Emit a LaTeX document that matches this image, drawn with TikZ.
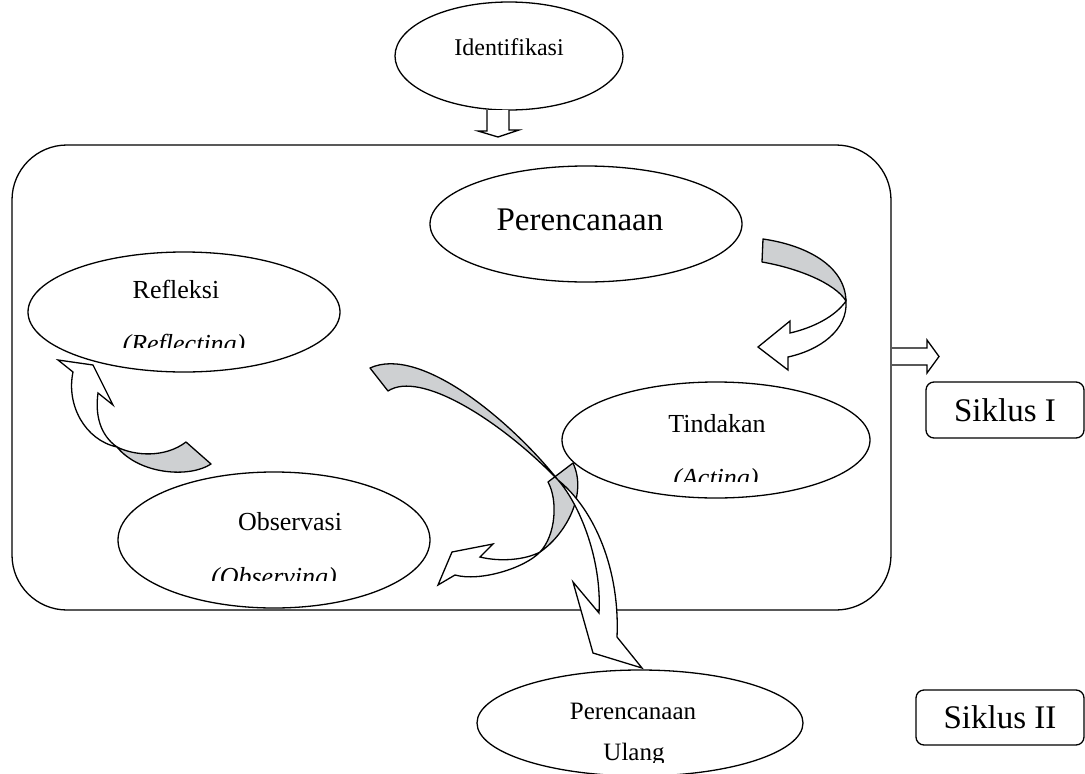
\documentclass[tikz,border=0pt]{standalone}
\usepackage{fontspec}
\setmainfont{Liberation Serif}
\usetikzlibrary{shapes.geometric}
\definecolor{shade}{RGB}{206,208,210}
\begin{document}
\begin{tikzpicture}[x=1pt,y=-1pt,line width=1.3pt,
  oval/.style={draw,ellipse,inner sep=0pt},
  txt/.style={anchor=base,inner sep=0pt,font=\fontsize{26}{30}\selectfont},
  ittxt/.style={anchor=base,inner sep=0pt,font=\fontsize{26}{30}\selectfont\itshape},
  bigtxt/.style={anchor=base,inner sep=0pt,font=\fontsize{33}{38}\selectfont},
  cyclebox/.style={draw,rounded corners=8pt,inner sep=0pt,font=\fontsize{33}{38}\selectfont},
  band/.style={draw,fill=shade,line join=round},
  arrowbody/.style={draw,fill=white,line join=miter}]
\useasboundingbox (0,0) rectangle (1085,774);

% main frame
\node[draw,rounded corners=55pt,minimum width=879pt,minimum height=465pt,inner sep=0pt] (frame) at (451.5,377.5) {};

% ellipses
\node[oval,minimum width=228pt,minimum height=108pt] (ident) at (509,56) {};
\node[txt,font=\fontsize{24}{28}\selectfont] (identtxt) at (509,55) {Identifikasi};

\node[oval,minimum width=312pt,minimum height=116pt] (plan) at (586,224) {};
\node[bigtxt] (plantxt) at (580,230) {Perencanaan};

\node[oval,minimum width=312pt,minimum height=120pt] (refl) at (184,312) {};
\node[txt] (refltxt) at (176,298) {Refleksi};
\begin{scope}
  \clip (0,0) rectangle (1085,347);
  \node[ittxt] (reflit) at (184,352) {(Reflecting)};
\end{scope}

\node[oval,minimum width=308pt,minimum height=116pt] (act) at (716,440) {};
\node[txt] (acttxt) at (717,432) {Tindakan};
\begin{scope}
  \clip (0,0) rectangle (1085,481);
  \node[ittxt] (actit) at (716,486) {(Acting)};
\end{scope}

\node[oval,minimum width=312pt,minimum height=136pt] (obs) at (274,540) {};
\node[txt] (obstxt) at (290,530) {Observasi};
\begin{scope}
  \clip (0,0) rectangle (1085,580);
  \node[ittxt] (obsit) at (274,585) {(Observing)};
\end{scope}

\node[oval,minimum width=326pt,minimum height=106pt] (replan) at (640,723) {};
\node[txt,font=\fontsize{25}{30}\selectfont] (replantxt) at (633,719) {Perencanaan};
\begin{scope}
  \clip (0,0) rectangle (1085,762);
  \node[txt,font=\fontsize{25}{30}\selectfont] (replantxtb) at (634,760) {Ulang};
\end{scope}

% curved arrow: Tindakan -> Observasi
\draw[band] (548,482) -- (573,463) .. controls (588,495) and (565,535) .. (540,552)
  .. controls (556,535) and (558,500) .. (548,482) -- cycle;
\draw[arrowbody] (540,552) .. controls (525,568) and (480,582) .. (455,575)
  -- (438,585) -- (452,552) -- (493,544) -- (480,557)
  .. controls (500,562) and (525,560) .. (540,552) -- cycle;

% curved arrow: Refleksi -> Perencanaan Ulang
\draw[band] (370,368) .. controls (420,345) and (510,420) .. (558,480)
  .. controls (500,420) and (420,370) .. (388,391) -- cycle;
\draw[arrowbody] (558,480) .. controls (580,505) and (602,560) .. (599,613)
  -- (573,582) -- (593,653) -- (642,668) -- (617,637)
  .. controls (620,570) and (595,510) .. (558,480) -- cycle;

% curved arrow: Perencanaan -> Tindakan
\draw[band] (763,239) -- (762,262) .. controls (797,268) and (835,283) .. (846,301)
  .. controls (845,265) and (805,245) .. (763,239) -- cycle;
\draw[arrowbody] (846,301) .. controls (848,330) and (820,350) .. (788,357)
  -- (788,370) -- (758,347) -- (790,321) -- (790,333)
  .. controls (812,328) and (835,317) .. (846,301) -- cycle;

% curved arrow: Observasi -> Refleksi
\draw[band] (117,447) .. controls (135,456) and (165,458) .. (186,442)
  -- (211,464) .. controls (190,478) and (140,475) .. (117,447) -- cycle;
\draw[arrowbody] (117,447) .. controls (85,440) and (66,405) .. (73,372)
  -- (58,360) -- (93,365) -- (113,405) -- (98,393)
  .. controls (95,415) and (100,435) .. (117,447) -- cycle;

% block arrows
\draw[arrowbody] (487,110) -- (487,131) -- (478,131) -- (498,137) -- (519,130) -- (509,130) -- (509,110);
\draw[arrowbody] (892,348) -- (927,348) -- (927,340) -- (939,356.5) -- (927,373) -- (927,365) -- (892,365);

% cycle labels
\node[cyclebox,minimum width=158pt,minimum height=56pt] (s1) at (1005,410) {Siklus I};
\node[cyclebox,minimum width=168pt,minimum height=55pt] (s2) at (1000,717.5) {Siklus II};
\end{tikzpicture}
\end{document}
